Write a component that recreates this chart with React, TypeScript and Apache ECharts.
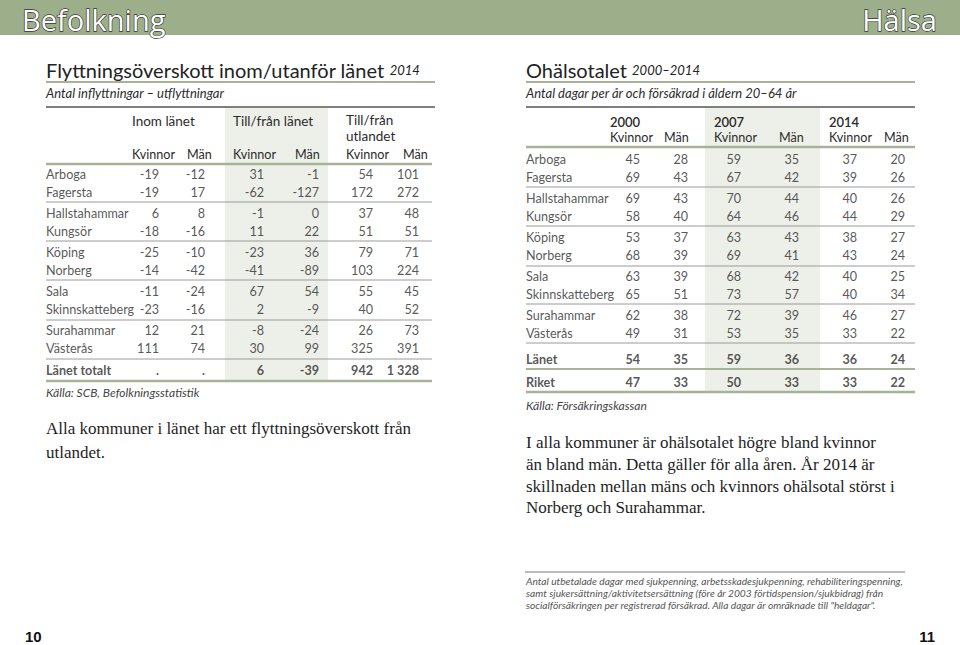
import React, { useEffect, useRef } from "react";
import * as echarts from "echarts";

// ---------- Data: Flyttningsöverskott 2014 ----------
const municipalities = [
  "Arboga", "Fagersta", "Hallstahammar", "Kungsör", "Köping",
  "Norberg", "Sala", "Skinnskatteberg", "Surahammar", "Västerås",
];
const inomKvinnor = [-19, -19, 6, -18, -25, -14, -11, -23, 12, 111];
const inomMan = [-12, 17, 8, -16, -10, -42, -24, -16, 21, 74];
const lanKvinnor = [31, -62, -1, 11, -23, -41, 67, 2, -8, 30];
const lanMan = [-1, -127, 0, 22, 36, -89, 54, -9, -24, 99];
const utlKvinnor = [54, 172, 37, 51, 79, 103, 55, 40, 26, 325];
const utlMan = [101, 272, 48, 51, 71, 224, 45, 52, 73, 391];
const lanetTotaltLabel = "Länet totalt";
const lanetTotalt = [null, null, 6, -39, 942, 1328];

// ---------- Data: Ohälsotalet ----------
const years = ["2000", "2007", "2014"];
const k2000 = [45, 69, 69, 58, 53, 68, 63, 65, 62, 49];
const m2000 = [28, 43, 43, 40, 37, 39, 39, 51, 38, 31];
const k2007 = [59, 67, 70, 64, 63, 69, 68, 73, 72, 53];
const m2007 = [35, 42, 44, 46, 43, 41, 42, 57, 39, 35];
const k2014 = [37, 39, 40, 44, 38, 43, 40, 40, 46, 33];
const m2014 = [20, 26, 26, 29, 27, 24, 25, 34, 27, 22];
const summaryRows = ["Länet", "Riket"];
const lanetValues = [54, 35, 59, 36, 36, 24];
const riketValues = [47, 33, 50, 33, 33, 22];

// ---------- Styling ----------
const SANS = "Lato, 'Liberation Sans', sans-serif";
const SERIF = "'Liberation Serif', 'DejaVu Serif', serif";
const TXT = "#2b2b2b";
const GREEN = "#9caf8a";
const GREEN_LINE = "#a7b396";
const SHADE = "#edf0e8";
const FS = 12.6;

const fmt = (v: number | null) =>
  v === null ? "." : String(v).replace(/\B(?=(\d{3})+(?!\d))/g, " ");

// layout helpers
const leftRowY = (i: number) => 174 + Math.floor(i / 2) * 39.2 + (i % 2) * 18;
const leftTotalY = 370;
const leftColRight = [159, 205, 264, 319, 373, 419];
const rightRowY = (i: number) => 159 + Math.floor(i / 2) * 39 + (i % 2) * 18;
const rightSummaryY = [359, 382];
const rightColRight = [640, 688, 741, 799, 857, 905];

function cellSeries(name: string, points: { x: number; y: number; text: string; bold?: boolean }[], side: "left" | "right") {
  return {
    name,
    type: "scatter",
    symbolSize: 0,
    silent: true,
    z: 5,
    data: points.map((p) => ({
      value: [p.x, p.y],
      label: {
        show: true,
        position: side,
        distance: 0,
        formatter: p.text,
        fontFamily: SANS,
        fontSize: FS,
        color: TXT,
        fontWeight: p.bold ? "bold" : "normal",
      },
    })),
  };
}

function buildOption() {
  const series: any[] = [];
  // Left table
  const leftCols = [inomKvinnor, inomMan, lanKvinnor, lanMan, utlKvinnor, utlMan];
  leftCols.forEach((col, c) => {
    const pts = col.map((v, i) => ({ x: leftColRight[c], y: leftRowY(i), text: fmt(v) }));
    pts.push({ x: leftColRight[c], y: leftTotalY, text: fmt(lanetTotalt[c]), bold: true } as any);
    series.push(cellSeries("L" + c, pts, "left"));
  });
  const leftLabels = municipalities.map((m, i) => ({ x: 46, y: leftRowY(i), text: m }));
  leftLabels.push({ x: 46, y: leftTotalY, text: lanetTotaltLabel, bold: true } as any);
  series.push(cellSeries("Lnames", leftLabels, "right"));

  // Right table
  const rightCols = [k2000, m2000, k2007, m2007, k2014, m2014];
  rightCols.forEach((col, c) => {
    const pts = col.map((v, i) => ({ x: rightColRight[c], y: rightRowY(i), text: fmt(v) }));
    pts.push({ x: rightColRight[c], y: rightSummaryY[0], text: fmt(lanetValues[c]), bold: true } as any);
    pts.push({ x: rightColRight[c], y: rightSummaryY[1], text: fmt(riketValues[c]), bold: true } as any);
    series.push(cellSeries("R" + c, pts, "left"));
  });
  const rightLabels = municipalities.map((m, i) => ({ x: 526, y: rightRowY(i), text: m }));
  summaryRows.forEach((s, j) => rightLabels.push({ x: 526, y: rightSummaryY[j], text: s, bold: true } as any));
  series.push(cellSeries("Rnames", rightLabels, "right"));

  const g: any[] = [];
  const line = (x1: number, y: number, x2: number, stroke: string, w: number) =>
    g.push({ type: "line", shape: { x1, y1: y, x2, y2: y }, style: { stroke, lineWidth: w }, z: 1 });
  const text = (x: number, y: number, t: string, extra: any = {}) =>
    g.push({
      type: "text",
      x,
      y,
      z: 3,
      style: { text: t, fontFamily: SANS, fontSize: FS, fill: TXT, verticalAlign: "middle", align: "left", ...extra },
    });

  // header bar
  g.push({ type: "rect", shape: { x: 0, y: 0, width: 960, height: 35 }, style: { fill: GREEN }, z: 0 });
  const hdr = { fontSize: 29, fill: "#ffffff", stroke: "#333333", lineWidth: 1.3, fontFamily: "'Open Sans', 'Noto Sans', sans-serif", fontWeight: 500 };
  text(22, 19, "Befolkning", hdr);
  text(937, 19, "Hälsa", { ...hdr, align: "right" });

  // shading columns
  g.push({ type: "rect", shape: { x: 225, y: 108, width: 103, height: 272 }, style: { fill: SHADE }, z: 0 });
  g.push({ type: "rect", shape: { x: 705, y: 108, width: 115, height: 284 }, style: { fill: SHADE }, z: 0 });

  // titles
  const titleStyle = {
    fontSize: 20,
    fill: "#222",
    rich: { y: { fontSize: 13, fontStyle: "italic", fontFamily: SANS, fill: "#222" } },
  };
  text(46, 70, "Flyttningsöverskott inom/utanför länet {y|2014}", titleStyle);
  text(526, 70, "Ohälsotalet {y|2000–2014}", titleStyle);
  line(46, 82, 435, GREEN_LINE, 2);
  line(526, 82, 915, GREEN_LINE, 2);
  text(46, 93, "Antal inflyttningar – utflyttningar", { fontSize: 13, fontStyle: "italic" });
  text(526, 93, "Antal dagar per år och försäkrad i åldern 20–64 år", { fontSize: 13, fontStyle: "italic" });
  line(46, 107, 435, "#555", 1.5);
  line(526, 107, 915, "#555", 1.5);

  // left headers
  text(132, 121, "Inom länet", { fontSize: 13.5 });
  text(233, 121, "Till/från länet", { fontSize: 13.5 });
  text(346, 120, "Till/från", { fontSize: 13.5 });
  text(346, 136, "utlandet", { fontSize: 13.5 });
  [132, 233, 346].forEach((x) => text(x, 154, "Kvinnor"));
  [187, 295, 403].forEach((x) => text(x, 154, "Män"));
  line(46, 164, 432, GREEN_LINE, 2.5);
  [202, 241, 280, 320, 359].forEach((y) => line(46, y, 432, "#9a9a9a", 1));
  line(46, 381, 432, GREEN_LINE, 2.5);
  text(46, 392, "Källa: SCB, Befolkningsstatistik", { fontSize: 12, fontStyle: "italic", fill: "#444" });

  // right headers
  const yearX = [610, 714, 829];
  years.forEach((yr, k) => text(yearX[k], 122, yr, { fontWeight: 600, fontSize: 13 }));
  yearX.forEach((x) => text(x, 137, "Kvinnor"));
  [664, 779, 884].forEach((x) => text(x, 137, "Män"));
  line(526, 147, 915, GREEN_LINE, 2.5);
  [187, 226, 266, 304, 343].forEach((y) => line(526, y, 915, "#9a9a9a", 1));
  line(526, 369, 915, GREEN_LINE, 2);
  line(526, 392, 915, GREEN_LINE, 2.5);
  text(526, 405, "Källa: Försäkringskassan", { fontSize: 12, fontStyle: "italic", fill: "#444" });

  // body texts
  const serif = { fontFamily: SERIF, fontSize: 17, fill: "#1e1e1e" };
  text(46, 428, "Alla kommuner i länet har ett flyttningsöverskott från", serif);
  text(46, 452, "utlandet.", serif);
  text(526, 442, "I alla kommuner är ohälsotalet högre bland kvinnor", serif);
  text(526, 464, "än bland män. Detta gäller för alla åren. År 2014 är", serif);
  text(526, 486, "skillnaden mellan mäns och kvinnors ohälsotal störst i", serif);
  text(526, 507, "Norberg och Surahammar.", serif);

  // footnote
  line(525, 572, 905, "#777", 1);
  const fn = { fontSize: 10.2, fontStyle: "italic", fill: "#555" };
  text(526, 581, "Antal utbetalade dagar med sjukpenning, arbetsskadesjukpenning, rehabiliteringspenning,", fn);
  text(526, 593, "samt sjukersättning/aktivitetsersättning (före år 2003 förtidspension/sjukbidrag) från", fn);
  text(526, 605, "socialförsäkringen per registrerad försäkrad. Alla dagar är omräknade till \"heldagar\".", fn);

  // page numbers
  const pn = { fontSize: 15, fontWeight: "bold", fill: "#111", fontFamily: "'Liberation Sans', sans-serif" };
  text(25, 636, "10", pn);
  text(935, 636, "11", { ...pn, align: "right" });

  return {
    animation: false,
    backgroundColor: "#ffffff",
    grid: { left: 0, top: 0, right: 0, bottom: 0 },
    xAxis: { type: "value", min: 0, max: 960, show: false },
    yAxis: { type: "value", min: 0, max: 645, inverse: true, show: false },
    graphic: g,
    series,
  };
}

export default function App() {
  const ref = useRef<HTMLDivElement>(null);
  useEffect(() => {
    const chart = echarts.init(ref.current!, null, { renderer: "svg" });
    chart.setOption(buildOption() as any);
    return () => chart.dispose();
  }, []);
  return (
    <div
      ref={ref}
      style={{ position: "fixed", left: 0, top: 0, width: 960, height: 645, background: "#fff" }}
    />
  );
}
